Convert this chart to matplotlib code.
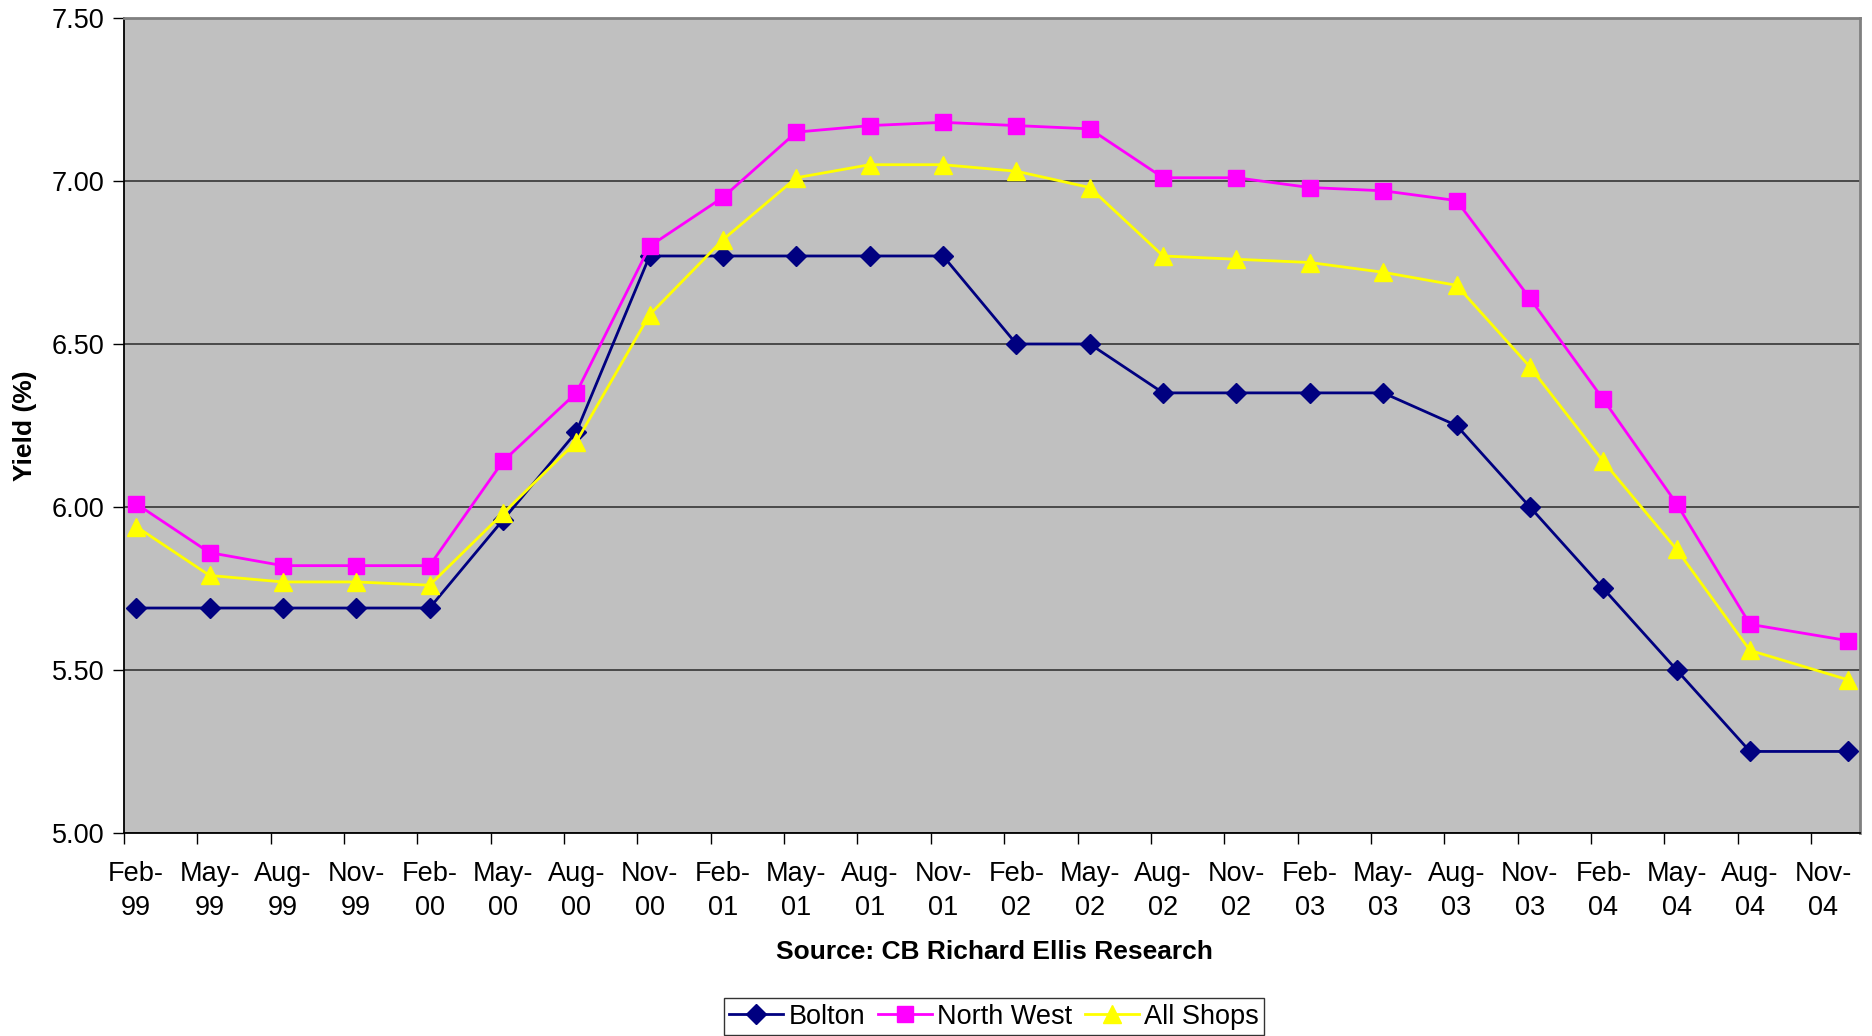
import matplotlib
matplotlib.use("Agg")
import matplotlib.pyplot as plt
import numpy as np

plt.rcParams['font.family'] = ['Liberation Sans', 'DejaVu Sans']

# Survey dates as month offsets from Feb-99 (quarterly, last survey in Dec-04)
months = [0, 3, 6, 9, 12, 15, 18, 21, 24, 27, 30, 33, 36, 39, 42, 45, 48, 51,
          54, 57, 60, 63, 66, 70]

bolton = [5.69, 5.69, 5.69, 5.69, 5.69, 5.96, 6.23, 6.77, 6.77, 6.77, 6.77, 6.77,
          6.50, 6.50, 6.35, 6.35, 6.35, 6.35, 6.25, 6.00, 5.75, 5.50, 5.25, 5.25]
north_west = [6.01, 5.86, 5.82, 5.82, 5.82, 6.14, 6.35, 6.80, 6.95, 7.15, 7.17, 7.18,
              7.17, 7.16, 7.01, 7.01, 6.98, 6.97, 6.94, 6.64, 6.33, 6.01, 5.64, 5.59]
all_shops = [5.94, 5.79, 5.77, 5.77, 5.76, 5.98, 6.20, 6.59, 6.82, 7.01, 7.05, 7.05,
             7.03, 6.98, 6.77, 6.76, 6.75, 6.72, 6.68, 6.43, 6.14, 5.87, 5.56, 5.47]

tick_labels = ["Feb-\n99", "May-\n99", "Aug-\n99", "Nov-\n99",
               "Feb-\n00", "May-\n00", "Aug-\n00", "Nov-\n00",
               "Feb-\n01", "May-\n01", "Aug-\n01", "Nov-\n01",
               "Feb-\n02", "May-\n02", "Aug-\n02", "Nov-\n02",
               "Feb-\n03", "May-\n03", "Aug-\n03", "Nov-\n03",
               "Feb-\n04", "May-\n04", "Aug-\n04", "Nov-\n04"]
label_months = [3 * i for i in range(len(tick_labels))]
y_ticks = [5.00, 5.50, 6.00, 6.50, 7.00, 7.50]

fig = plt.figure(figsize=(18.72, 10.36), dpi=100)
ax = fig.add_axes([0.0662, 0.196, 0.9274, 0.7866])
ax.set_facecolor('#C0C0C0')

ax.plot(months, bolton, color='#000080', lw=2.0, marker='D', ms=10,
        markeredgecolor='#000080', label='Bolton', zorder=3)
ax.plot(months, north_west, color='#FF00FF', lw=2.0, marker='s', ms=12,
        markeredgecolor='#FF00FF', label='North West', zorder=3)
ax.plot(months, all_shops, color='#FFFF00', lw=2.0, marker='^', ms=13,
        markeredgecolor='#FFFF00', label='All Shops', zorder=3)

ax.set_xlim(-0.5, 70.5)
ax.set_ylim(5.0, 7.5)

# quarter boundaries carry the tick marks, labels sit under each survey month
ax.set_xticks([-0.5 + 3 * i for i in range(24)])
ax.set_xticklabels([])
ax.set_xticks(label_months, minor=True)
ax.set_xticklabels(tick_labels, minor=True, fontsize=19.5, linespacing=1.42)
ax.tick_params(axis='x', which='minor', length=0, pad=20)
ax.tick_params(axis='x', which='major', length=8, width=1.0, direction='out',
               color='black')

ax.set_yticks(y_ticks)
ax.set_yticklabels([f"{v:.2f}" for v in y_ticks], fontsize=19.5)
ax.tick_params(axis='y', length=8, width=1.0, direction='out', pad=6)

ax.grid(axis='y', color='#404040', lw=1.3)
ax.set_axisbelow(True)

for side in ['left', 'bottom']:
    ax.spines[side].set_color('black')
    ax.spines[side].set_linewidth(1.3)
for side in ['top', 'right']:
    ax.spines[side].set_color('#808080')
    ax.spines[side].set_linewidth(2.0)

ax.set_ylabel('Yield (%)', fontsize=19, fontweight='bold')
ax.yaxis.set_label_coords(-0.05, 0.5)

fig.text(0.531, 0.081, 'Source: CB Richard Ellis Research', ha='center',
         va='center', fontsize=19, fontweight='bold')

leg = fig.legend(loc='center', bbox_to_anchor=(0.531, 0.0185), ncol=3,
                 fontsize=19.5, frameon=True, fancybox=False, edgecolor='black',
                 handlelength=2.0, handletextpad=0.2, columnspacing=0.45,
                 borderpad=0.2, borderaxespad=0)
leg.get_frame().set_linewidth(1.0)

fig.savefig('out.png', dpi=100, facecolor='white')
